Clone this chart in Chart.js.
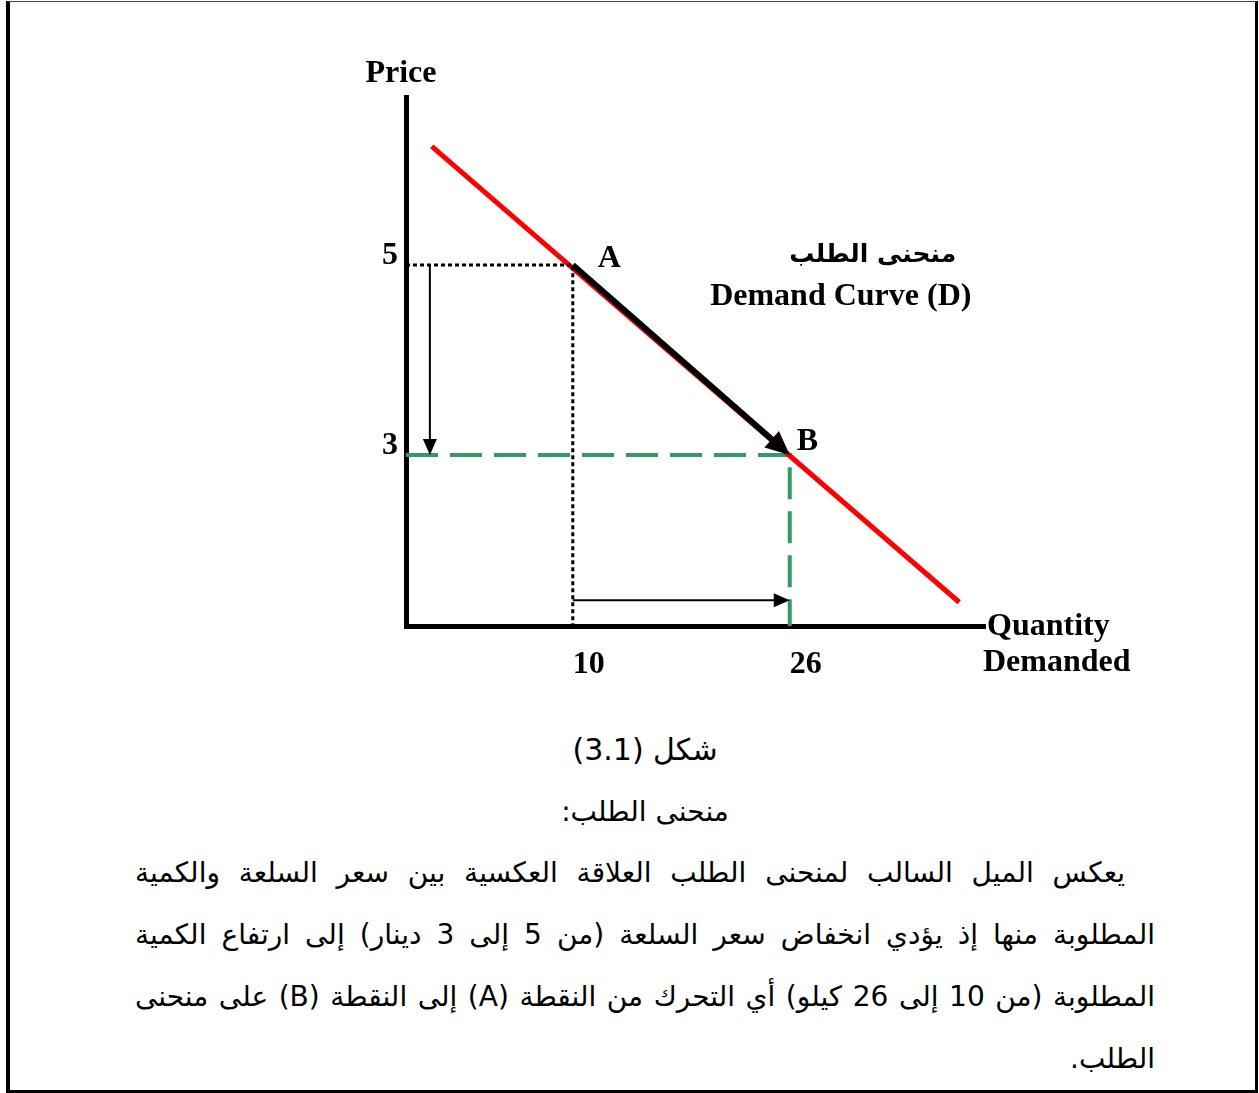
<!DOCTYPE html>
<html lang="ar">
<head>
    <meta charset="UTF-8">
    <title>Demand Curve</title>
    <script src="https://cdn.jsdelivr.net/npm/chart.js"></script>
    <style>
        body { margin: 0; background: #fff; }
        .frame {
            position: absolute; left: 6px; top: 1px; width: 1245px; height: 1088px;
            border-left: 4px solid #000; border-top: 1px solid #444;
            border-right: 3px solid #000; border-bottom: 3px solid #000;
        }
        #demandChart { position: absolute; left: 0; top: 0; }
        .text {
            position: absolute; top: 719px; left: 135px; width: 1020px;
            direction: rtl; font-family: "DejaVu Sans", sans-serif; font-size: 28px;
            line-height: 61.7px; color: #000;
        }
        .center { text-align: center; }
        .caption { font-size: 30px; }
        .just { text-align: justify; text-align-last: justify; }
        .indent { padding-right: 30px; }
    </style>
</head>
<body>
    <div class="frame"></div>
    <canvas id="demandChart" width="1259" height="700"></canvas>

    <div class="text">
        <div class="center caption">شكل (3.1)</div>
        <div class="center">منحنى الطلب:</div>
        <div class="just indent">يعكس الميل السالب لمنحنى الطلب العلاقة العكسية بين سعر السلعة والكمية</div>
        <div class="just">المطلوبة منها إذ يؤدي انخفاض سعر السلعة (من 5 إلى 3 دينار) إلى ارتفاع الكمية</div>
        <div class="just">المطلوبة (من 10 إلى 26 كيلو) أي التحرك من النقطة (A) إلى النقطة (B) على منحنى</div>
        <div>الطلب.</div>
    </div>

    <script>
        // values
        const quantityTicks = [10, 26];
        const priceTicks = [5, 3];
        const pointNames = ['A', 'B'];
        const pointQuantity = [10, 26];
        const pointPrice = [5, 3];
        const curveQuantity = [-0.4, 38.5];
        const curvePrice = [6.25, 1.45];
        const quantityRange = [-2.3, 40.4];
        const priceRange = [1.2, 6.77];
        const priceDropAt = -0.54;     // quantity where the down arrow sits
        const quantityRiseAt = 1.47;   // price where the right arrow sits

        const serif = '"Liberation Serif", "Times New Roman", serif';
        const xMin = quantityRange[0], yMin = priceRange[0];

        const pts = (xs, ys) => xs.map((x, i) => ({ x: x, y: ys[i] }));

        // lower order is drawn on top
        const datasets = [
            {   // demand curve
                data: pts(curveQuantity, curvePrice),
                borderColor: '#ff0000', borderWidth: 5, order: 3
            },
            {   // dotted guides at A
                data: [{ x: xMin, y: pointPrice[0] }, { x: pointQuantity[0], y: pointPrice[0] }, { x: pointQuantity[0], y: yMin }],
                borderColor: '#000', borderWidth: 3, borderDash: [4, 3], order: 2
            },
            {   // dashed guides at B
                data: [{ x: xMin, y: pointPrice[1] }, { x: pointQuantity[1], y: pointPrice[1] }, { x: pointQuantity[1], y: yMin }],
                borderColor: '#339966', borderWidth: 4, borderDash: [32, 12], order: 4
            },
            {   // movement along the curve A -> B
                data: pts(pointQuantity, pointPrice),
                borderColor: '#000', borderWidth: 6, arrow: { len: 24, half: 11 }, order: 0
            },
            {   // price falls
                data: pts([priceDropAt, priceDropAt], pointPrice),
                borderColor: '#000', borderWidth: 2, arrow: { len: 16, half: 7 }, order: 1
            },
            {   // quantity rises
                data: pts(pointQuantity, [quantityRiseAt, quantityRiseAt]),
                borderColor: '#000', borderWidth: 2, arrow: { len: 16, half: 7 }, order: 1
            }
        ];
        datasets.forEach(d => { d.pointRadius = 0; d.fill = false; d.tension = 0; d.borderCapStyle = 'butt'; });

        // pulls the line back from the tip and draws a filled head
        const arrowPlugin = {
            id: 'arrows',
            beforeDatasetDraw(chart, args) {
                const ds = chart.data.datasets[args.index];
                if (!ds.arrow) return;
                const els = args.meta.data;
                const a = els[els.length - 2], b = els[els.length - 1];
                const tip = { x: b.x, y: b.y };
                const dx = tip.x - a.x, dy = tip.y - a.y, d = Math.hypot(dx, dy);
                ds._tip = { tip: tip, ux: dx / d, uy: dy / d };
                b.x = tip.x - dx / d * (ds.arrow.len - 2);
                b.y = tip.y - dy / d * (ds.arrow.len - 2);
            },
            afterDatasetDraw(chart, args) {
                const ds = chart.data.datasets[args.index];
                if (!ds.arrow || !ds._tip) return;
                const { tip, ux, uy } = ds._tip;
                const ctx = chart.ctx;
                const bx = tip.x - ux * ds.arrow.len, by = tip.y - uy * ds.arrow.len;
                ctx.save();
                ctx.fillStyle = ds.borderColor;
                ctx.beginPath();
                ctx.moveTo(tip.x, tip.y);
                ctx.lineTo(bx - uy * ds.arrow.half, by + ux * ds.arrow.half);
                ctx.lineTo(bx + uy * ds.arrow.half, by - ux * ds.arrow.half);
                ctx.closePath();
                ctx.fill();
                ctx.restore();
                const els = args.meta.data;
                els[els.length - 1].x = tip.x;
                els[els.length - 1].y = tip.y;
            }
        };

        const labelPlugin = {
            id: 'labels',
            afterDraw(chart) {
                const ctx = chart.ctx, area = chart.chartArea;
                const xs = chart.scales.x, ys = chart.scales.y;
                ctx.save();
                ctx.fillStyle = '#000';
                ctx.font = 'bold 32px ' + serif;
                ctx.textBaseline = 'middle';
                ctx.textAlign = 'center';
                ctx.fillText('Price', area.left - 5, area.top - 23);

                ctx.textAlign = 'left';
                const off = [[25, -6], [7, -13]];
                pointNames.forEach((n, i) => {
                    ctx.fillText(n, xs.getPixelForValue(pointQuantity[i]) + off[i][0],
                        ys.getPixelForValue(pointPrice[i]) + off[i][1]);
                });

                ctx.fillText('Quantity', area.right + 2, area.bottom + 1);
                ctx.fillText('Demanded', area.right - 2, area.bottom + 37);

                const ax = xs.getPixelForValue(pointQuantity[0]), ay = ys.getPixelForValue(pointPrice[0]);
                ctx.textAlign = 'center';
                ctx.fillText('Demand Curve (D)', ax + 268, ay + 32);
                ctx.font = 'bold 25px "DejaVu Sans", sans-serif';
                ctx.direction = 'rtl';
                ctx.fillText('منحنى الطلب', ax + 300, ay - 10);
                ctx.restore();
            }
        };

        const tickFont = { family: serif, size: 32, weight: 'bold' };

        new Chart(document.getElementById('demandChart'), {
            type: 'line',
            data: { datasets: datasets },
            plugins: [arrowPlugin, labelPlugin],
            options: {
                responsive: false,
                animation: false,
                devicePixelRatio: 1,
                layout: { padding: { left: 356, right: 274, top: 97, bottom: 4 } },
                plugins: { legend: { display: false }, tooltip: { enabled: false } },
                scales: {
                    x: {
                        type: 'linear', min: quantityRange[0], max: quantityRange[1],
                        grid: { display: false, drawTicks: false },
                        border: { display: true, color: '#000', width: 5 },
                        ticks: { color: '#000', font: tickFont, padding: 20, labelOffset: 16 },
                        afterBuildTicks: s => { s.ticks = quantityTicks.map(v => ({ value: v })); },
                        afterFit: s => { s.height = 70; }
                    },
                    y: {
                        type: 'linear', min: priceRange[0], max: priceRange[1],
                        grid: { display: false, drawTicks: false },
                        border: { display: true, color: '#000', width: 5 },
                        ticks: { color: '#000', font: tickFont, padding: 8, labelOffset: -9 },
                        afterBuildTicks: s => { s.ticks = priceTicks.map(v => ({ value: v })); },
                        afterFit: s => { s.width = 50; }
                    }
                }
            }
        });
    </script>
</body>
</html>
